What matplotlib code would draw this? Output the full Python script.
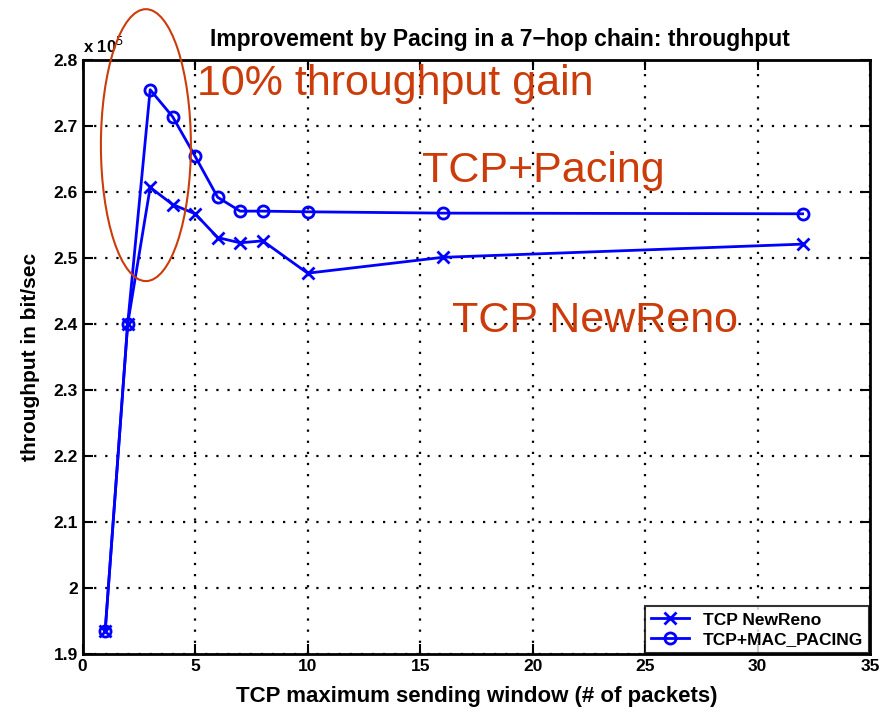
import matplotlib.pyplot as plt
from matplotlib.patches import Ellipse
from matplotlib.ticker import FormatStrFormatter, MultipleLocator

plt.rcParams['font.family'] = ['Liberation Sans', 'DejaVu Sans']

# throughput values in units of 1e5 bit/sec
window = [1, 2, 3, 4, 5, 6, 7, 8, 10, 16, 32]
newreno = [1.935, 2.40, 2.607, 2.581, 2.567, 2.531, 2.523, 2.526, 2.477, 2.501, 2.521]
pacing = [1.935, 2.40, 2.755, 2.714, 2.654, 2.592, 2.571, 2.571, 2.570, 2.568, 2.567]

ORANGE = '#cc3c0a'

fig = plt.figure(figsize=(8.89, 7.16), dpi=100)
ax = fig.add_axes([0.093, 0.0866, 0.8857, 0.8296])

ax.plot(window, newreno, color='blue', lw=2, marker='x', ms=8, mew=2,
        label='TCP NewReno')
ax.plot(window, pacing, color='blue', lw=2, marker='o', ms=8, mew=2,
        mfc='none', label='TCP+MAC_PACING')

ax.set_xlim(0, 35)
ax.set_ylim(1.9, 2.8)
ax.xaxis.set_major_locator(MultipleLocator(5))
ax.yaxis.set_major_locator(MultipleLocator(0.1))
ax.yaxis.set_major_formatter(FormatStrFormatter('%g'))
ax.grid(True, color='black', linestyle=(0, (1, 4)), linewidth=1.6)
ax.tick_params(direction='in', length=7, width=1.5, top=True, right=True,
               labelsize=12.5)
for lbl in ax.get_xticklabels() + ax.get_yticklabels():
    lbl.set_fontweight('bold')
for s in ax.spines.values():
    s.set_linewidth(2)

ax.set_title('Improvement by Pacing in a 7\u2212hop chain: throughput',
             fontsize=16.5, fontweight='bold', pad=10, x=0.53)
ax.set_xlabel('TCP maximum sending window (# of packets)', fontsize=16,
              fontweight='bold', labelpad=9)
ax.set_ylabel('throughput in bit/sec', fontsize=15, fontweight='bold',
              labelpad=10)
ax.text(0.0, 1.006, r'x 10$^5$', transform=ax.transAxes, fontsize=12,
        fontweight='bold', va='bottom', ha='left')

leg = ax.legend(loc='lower right', prop={'weight': 'bold', 'size': 12.5},
                fancybox=False, edgecolor='black', borderaxespad=0.05,
                handlelength=2.2, labelspacing=0.25, borderpad=0.35)
leg.get_frame().set_linewidth(1.5)

# annotations
ax.add_patch(Ellipse((2.81, 2.671), 4.0, 0.412, fill=False, edgecolor=ORANGE,
                     lw=1.5, clip_on=False, zorder=5))
ax.text(5.1, 2.763, '10% throughput gain', color=ORANGE, fontsize=31,
        va='center', ha='left')
ax.text(15.1, 2.632, 'TCP+Pacing', color=ORANGE, fontsize=31,
        va='center', ha='left')
ax.text(16.4, 2.405, 'TCP NewReno', color=ORANGE, fontsize=31,
        va='center', ha='left')

fig.savefig('out.png', dpi=100)
